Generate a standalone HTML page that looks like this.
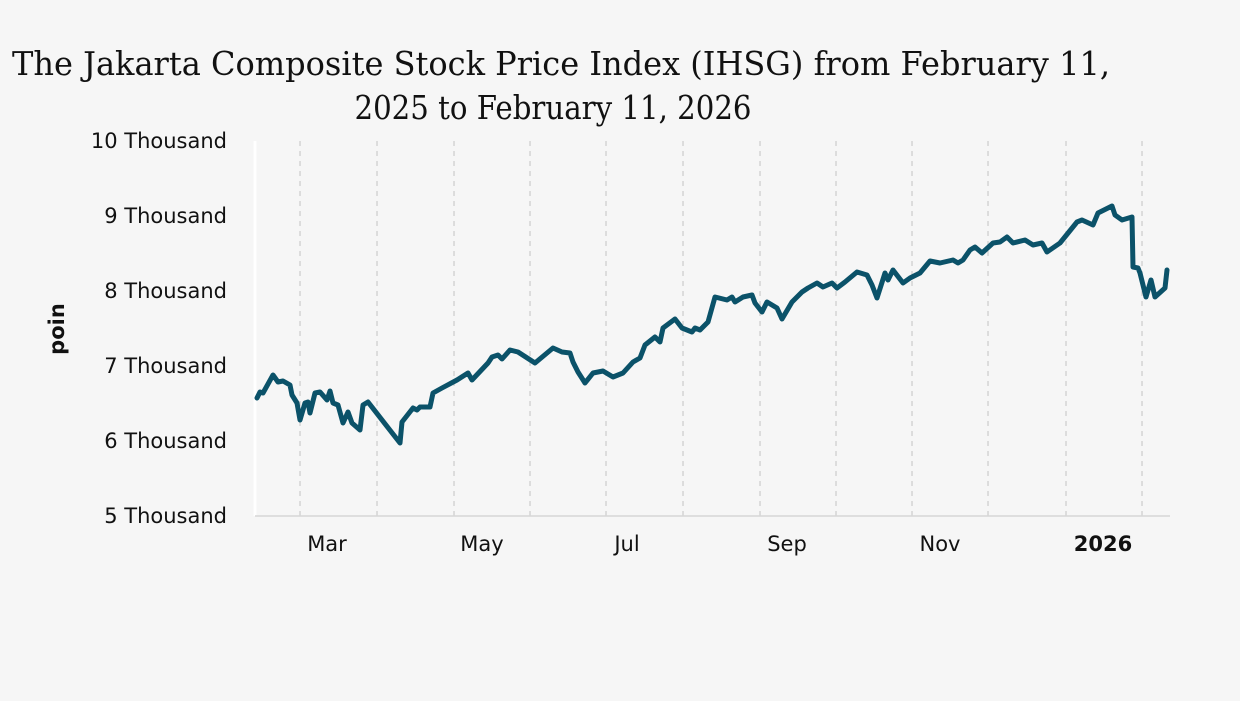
<!DOCTYPE html>
<html><head><meta charset="utf-8"><style>
html,body{margin:0;padding:0;background:#f6f6f6;}
</style></head><body>
<svg width="1240" height="696" viewBox="0 0 1240 696" xmlns="http://www.w3.org/2000/svg">
<rect width="1240" height="696" fill="#f6f6f6"/>
<g font-family="'DejaVu Serif', 'Liberation Serif', serif" font-size="33" fill="#111" text-anchor="middle">
<text x="561" y="75" textLength="1098" lengthAdjust="spacingAndGlyphs">The Jakarta Composite Stock Price Index (IHSG) from February 11,</text>
<text x="553" y="119" textLength="397" lengthAdjust="spacingAndGlyphs">2025 to February 11, 2026</text>
</g>
<g stroke="#cfcfcf" stroke-width="1.3" stroke-dasharray="5,5">
<line x1="300" y1="141" x2="300" y2="516"/><line x1="377" y1="141" x2="377" y2="516"/>
<line x1="454" y1="141" x2="454" y2="516"/><line x1="530" y1="141" x2="530" y2="516"/>
<line x1="606" y1="141" x2="606" y2="516"/><line x1="683" y1="141" x2="683" y2="516"/>
<line x1="760" y1="141" x2="760" y2="516"/><line x1="836" y1="141" x2="836" y2="516"/>
<line x1="912" y1="141" x2="912" y2="516"/><line x1="988" y1="141" x2="988" y2="516"/>
<line x1="1066" y1="141" x2="1066" y2="516"/><line x1="1142" y1="141" x2="1142" y2="516"/>
</g>
<line x1="255" y1="141" x2="255" y2="516" stroke="#ffffff" stroke-width="3"/>
<line x1="255" y1="516" x2="1170" y2="516" stroke="#d6d6d6" stroke-width="1.5"/>
<g font-family="'DejaVu Sans', sans-serif" font-size="21" fill="#111" text-anchor="end">
<text x="227" y="148">10 Thousand</text>
<text x="227" y="223">9 Thousand</text>
<text x="227" y="298">8 Thousand</text>
<text x="227" y="373">7 Thousand</text>
<text x="227" y="448">6 Thousand</text>
<text x="227" y="523">5 Thousand</text>
</g>
<g font-family="'DejaVu Sans', sans-serif" font-size="21" fill="#111" text-anchor="middle">
<text x="327" y="551">Mar</text><text x="482" y="551">May</text>
<text x="627" y="551">Jul</text><text x="787" y="551">Sep</text>
<text x="940" y="551">Nov</text><text x="1103" y="551" font-weight="bold">2026</text>
</g>
<text x="64" y="329" transform="rotate(-90 64 329)" font-family="'DejaVu Sans', sans-serif" font-size="21" font-weight="bold" text-anchor="middle" fill="#111">poin</text>
<polyline fill="none" stroke="#0b5269" stroke-width="5" stroke-linejoin="round" stroke-linecap="round" points="
257,398 260,392 263,393 273,375 278,382 283,381 290,385 292,395 297,403 300,420 305,403 308,402 310,413 315,393 320,392 327,400 330,391 333,403 338,405 343,423 348,412 352,423 360,430 363,405 368,402 400,443 402,422 413,408 417,410 420,407 430,407 433,393 442,388 457,380 468,373 472,380 488,363 492,357 498,355 502,359 510,350 518,352 535,363 553,348 562,352 570,353 573,362 578,372 585,383 593,373 603,371 613,377 623,373 633,362 640,358 645,345 655,337 660,342 663,328 675,319 682,328 692,332 695,328 700,330 708,322 715,297 727,300 732,297 735,302 743,297 752,295 755,303 762,312 767,302 777,308 782,319 792,302 802,292 808,288 817,283 823,287 832,283 837,288 845,282 857,272 867,275 872,285 877,298 885,273 888,280 893,270 903,283 910,278 920,273 930,261 940,263 953,260 958,263 963,260 970,250 975,247 982,253 993,243 1000,242 1007,237 1013,243 1025,240 1033,245 1042,243 1047,252 1060,243 1077,222 1082,220 1093,225 1098,213 1112,206 1115,215 1122,220 1132,217 1133,267 1138,268 1140,273 1146,297 1151,280 1155,297 1165,288 1167,270"/>
</svg>
</body></html>
